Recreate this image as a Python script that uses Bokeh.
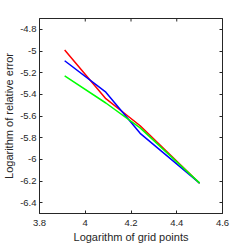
from bokeh.plotting import figure
from bokeh.models import LinearAxis, FixedTicker, CustomJSTickFormatter, Range1d
from bokeh.embed import file_html
from bokeh.resources import INLINE

# data
grid_log = [3.91, 4.09, 4.24, 4.50]
err_red = [-4.99, -5.44, -5.69, -6.22]
err_blue = [-5.09, -5.38, -5.76, -6.22]
err_green = [-5.23, -5.48, -5.71, -6.22]
x_ticks = [3.8, 4.0, 4.2, 4.4, 4.6]
y_ticks = [-6.4, -6.2, -6.0, -5.8, -5.6, -5.4, -5.2, -5.0, -4.8]

FONT = "Liberation Sans"
AX = "#262626"

p = figure(width=245, height=245, output_backend="svg", toolbar_location=None,
           x_range=Range1d(3.8, 4.6), y_range=Range1d(-6.5, -4.7),
           x_axis_location=None, y_axis_location=None,
           min_border_left=36, min_border_right=23, min_border_top=18,
           min_border_bottom=32)
p.grid.visible = False
p.outline_line_color = AX
p.outline_line_width = 1
p.background_fill_color = "white"
p.border_fill_color = "white"

fmt = CustomJSTickFormatter(code="return String(Math.round(tick*10)/10)")

def make_axis(ticks, labels=True, label=None, standoff=3):
    a = LinearAxis(ticker=FixedTicker(ticks=ticks), formatter=fmt)
    a.axis_line_color = AX
    a.major_tick_line_color = AX
    a.major_tick_in = 3
    a.major_tick_out = 0
    a.minor_tick_line_color = None
    a.major_label_text_font = FONT
    a.major_label_text_font_size = "9.5px"
    a.major_label_text_color = AX
    a.major_label_standoff = standoff
    if not labels:
        a.major_label_text_color = None
        a.major_label_text_font_size = "0px"
        a.major_label_standoff = 0
    if label:
        a.axis_label = label
        a.axis_label_text_font = FONT
        a.axis_label_text_font_size = "11px"
        a.axis_label_text_font_style = "normal"
        a.axis_label_text_color = AX
        a.axis_label_standoff = 2
    return a

p.add_layout(make_axis(x_ticks, True, "Logarithm of grid points", 6), "below")
p.add_layout(make_axis(y_ticks, True, "Logarithm of relative error", 3), "left")
p.add_layout(make_axis(y_ticks, False), "right")

# top-edge inward ticks (MATLAB box style), one per x tick
top_y = [p.y_range.end] * len(x_ticks)
p.ray(x=x_ticks, y=top_y, length=3, length_units="screen", angle=-1.5707963,
      line_color=AX, line_width=1)

p.line(grid_log, err_red, line_color="#FF0000", line_width=1.5)
p.line(grid_log, err_blue, line_color="#0000FF", line_width=1.5)
p.line(grid_log, err_green, line_color="#00FF00", line_width=1.5)

open("out.html", "w").write(file_html(p, INLINE))
